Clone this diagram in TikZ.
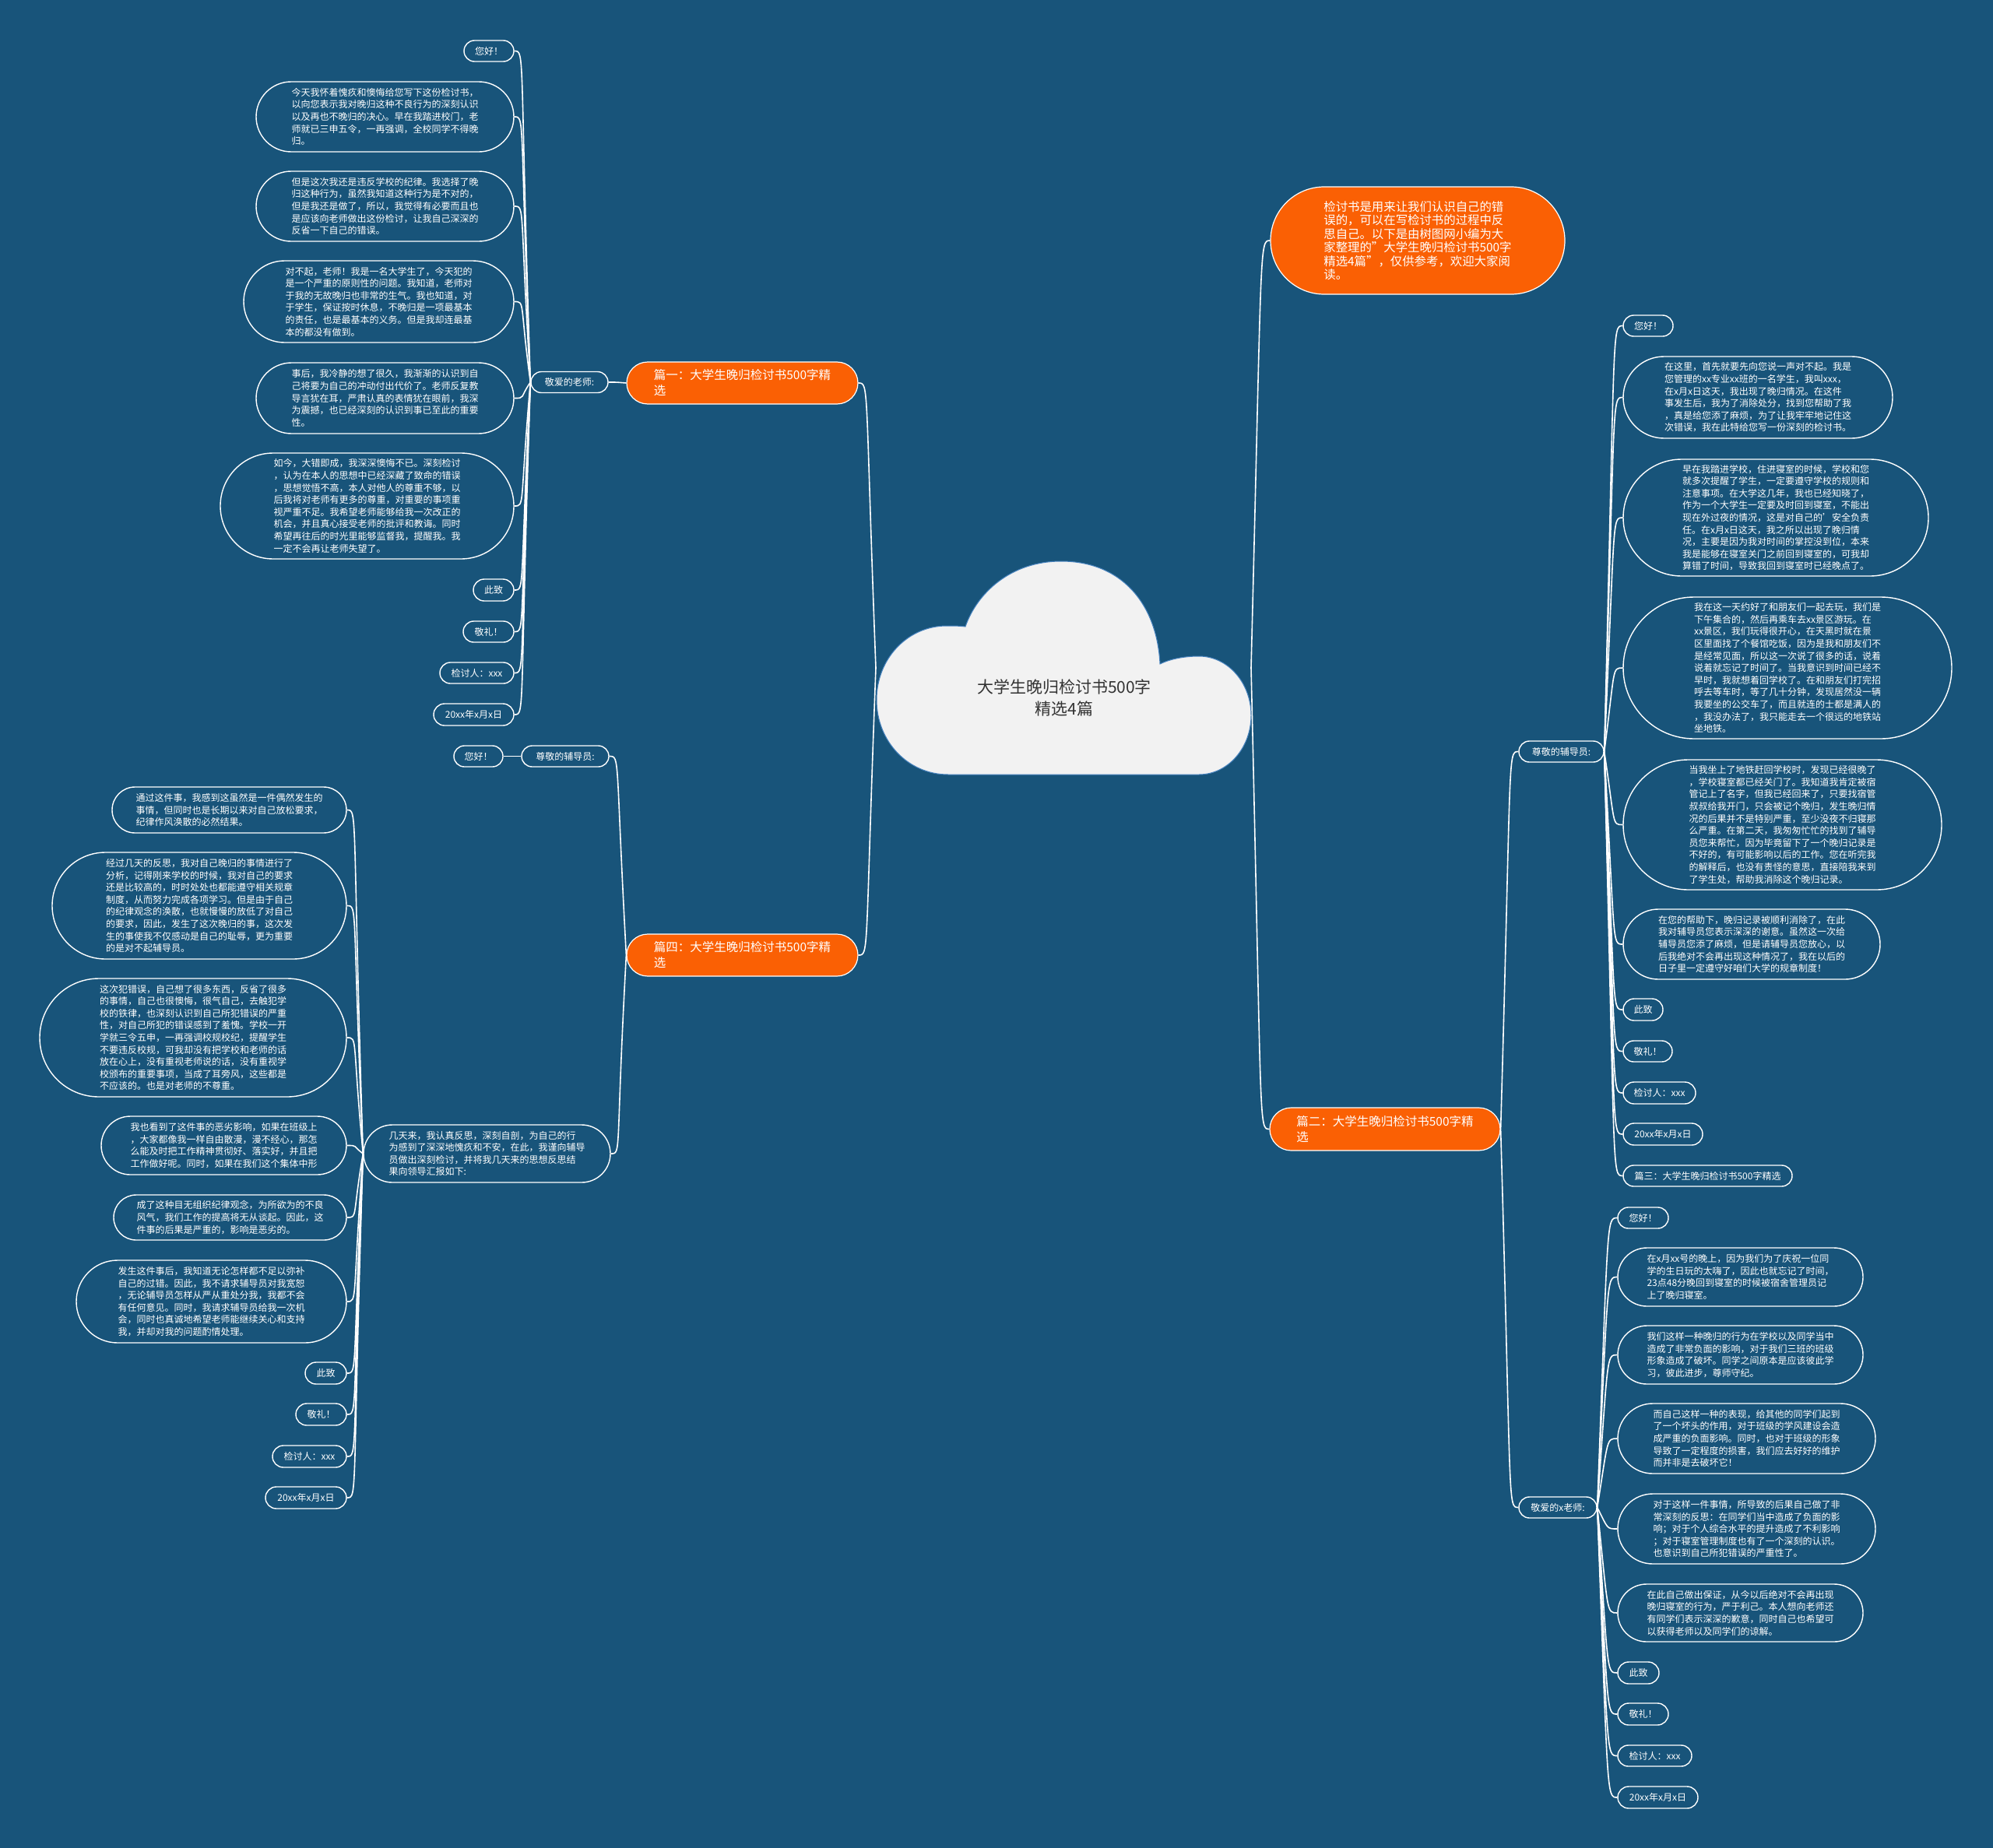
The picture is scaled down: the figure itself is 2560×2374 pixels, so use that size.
\documentclass[tikz,border=0pt]{standalone}
\usepackage{fontspec}
\setmainfont{Noto Sans CJK SC}
\usetikzlibrary{shapes.misc,calc}
\definecolor{bgC}{RGB}{24,84,122}
\definecolor{orangeC}{RGB}{250,96,4}
\definecolor{cloudC}{RGB}{242,242,242}
\definecolor{cloudEdge}{RGB}{70,130,190}
\definecolor{rootText}{RGB}{51,51,51}
\tikzset{
  conn/.style={draw=white, line width=1.6pt},
  bub/.style={rounded rectangle, draw=white, line width=1.4pt, fill=bgC, text=white,
    inner sep=0pt, align=left, font=\fontsize{12}{15.6}\selectfont},
  branch/.style={rounded rectangle, draw=white, line width=1.2pt, fill=orangeC, text=white,
    inner sep=0pt, align=left, font=\fontsize{15.5}{20}\selectfont},
  intro/.style={rounded rectangle, draw=white, line width=1.2pt, fill=orangeC, text=white,
    inner sep=0pt, align=left, font=\fontsize{15.4}{17.5}\selectfont},
  rootlabel/.style={text=rootText, align=center, inner sep=0pt, font=\fontsize{21}{28}\selectfont},
}
\newcommand\connL[2]{\draw[conn] let \p1=(#1), \p2=(#2) in (\p1) .. controls (\x1-14pt,\y2) and (\x2+14pt,\y2) .. (\p2);}
\newcommand\connR[2]{\draw[conn] let \p1=(#1), \p2=(#2) in (\p1) .. controls (\x1+14pt,\y2) and (\x2-14pt,\y2) .. (\p2);}
\begin{document}
\begin{tikzpicture}[x=1pt,y=-1pt]
\useasboundingbox (0,0) rectangle (2560,2374);
\fill[bgC] (0,0) rectangle (2560,2374);

% cloud
\filldraw[fill=cloudC, draw=cloudEdge, line width=1pt] (1218,995) -- (1540,995)
  .. controls (1577,995) and (1607,961) .. (1607,919)
  .. controls (1607,877) and (1577,843) .. (1540,843)
  .. controls (1520,843) and (1502,847) .. (1490,853)
  .. controls (1486,775) and (1440,721) .. (1363,721)
  .. controls (1298,721) and (1255,762) .. (1240,805)
  .. controls (1232,804) and (1225,804) .. (1216,804)
  .. controls (1166,804) and (1126,846) .. (1126,899)
  .. controls (1126,952) and (1166,995) .. (1218,995) -- cycle;
\node[rootlabel] (root) at (1367,896) {大学生晚归检讨书500字\\精选4篇};
\coordinate (cloudL) at (1125,858);
\coordinate (cloudR) at (1607,858);

% ===== branch 1 (left top)
\node[branch, minimum width=297pt, minimum height=54pt] (n1) at (953.5,492) {篇一：大学生晚归检讨书500字精\\选};
\node[bub, minimum width=99pt, minimum height=27pt] (t1) at (731.5,491) {敬爱的老师:};
\node[bub, minimum width=64pt, minimum height=27pt] (a1) at (628,65.5) {您好！};
\node[bub, minimum width=331pt, minimum height=90pt] (a2) at (494.5,150) {今天我怀着愧疚和懊悔给您写下这份检讨书，\\以向您表示我对晚归这种不良行为的深刻认识\\以及再也不晚归的决心。早在我踏进校门，老\\师就已三申五令，一再强调，全校同学不得晚\\归。};
\node[bub, minimum width=331pt, minimum height=90pt] (a3) at (494.5,265) {但是这次我还是违反学校的纪律。我选择了晚\\归这种行为，虽然我知道这种行为是不对的，\\但是我还是做了，所以，我觉得有必要而且也\\是应该向老师做出这份检讨，让我自己深深的\\反省一下自己的错误。};
\node[bub, minimum width=347pt, minimum height=105pt] (a4) at (486.5,387.5) {对不起，老师！我是一名大学生了，今天犯的\\是一个严重的原则性的问题。我知道，老师对\\于我的无故晚归也非常的生气。我也知道，对\\于学生，保证按时休息，不晚归是一项最基本\\的责任，也是最基本的义务。但是我却连最基\\本的都没有做到。};
\node[bub, minimum width=331pt, minimum height=91pt] (a5) at (494.5,511.5) {事后，我冷静的想了很久，我渐渐的认识到自\\己将要为自己的冲动付出代价了。老师反复教\\导言犹在耳，严肃认真的表情犹在眼前，我深\\为震撼，也已经深刻的认识到事已至此的重要\\性。};
\node[bub, minimum width=377pt, minimum height=136pt] (a6) at (471.5,650) {如今，大错即成，我深深懊悔不已。深刻检讨\\，认为在本人的思想中已经深藏了致命的错误\\，思想觉悟不高，本人对他人的尊重不够，以\\后我将对老师有更多的尊重，对重要的事项重\\视严重不足。我希望老师能够给我一次改正的\\机会，并且真心接受老师的批评和教诲。同时\\希望再往后的时光里能够监督我，提醒我。我\\一定不会再让老师失望了。};
\node[bub, minimum width=52pt, minimum height=28pt] (a7) at (634,758) {此致};
\node[bub, minimum width=65pt, minimum height=27pt] (a8) at (627.5,811.5) {敬礼！};
\node[bub, minimum width=95pt, minimum height=27pt] (a9) at (612.5,864.5) {检讨人：xxx};
\node[bub, minimum width=103pt, minimum height=28pt] (a10) at (608.5,918) {20xx年x月x日};

% ===== branch 4 (left bottom)
\node[branch, minimum width=297pt, minimum height=54pt] (n4) at (953.5,1227) {篇四：大学生晚归检讨书500字精\\选};
\node[bub, minimum width=112pt, minimum height=27pt] (t4) at (726,971.5) {尊敬的辅导员:};
\node[bub, minimum width=63pt, minimum height=27pt] (b0) at (614.5,971.5) {您好！};
\node[bub, minimum width=317pt, minimum height=74pt] (t4b) at (625.5,1482) {几天来，我认真反思，深刻自剖，为自己的行\\为感到了深深地愧疚和不安，在此，我谨向辅导\\员做出深刻检讨，并将我几天来的思想反思结\\果向领导汇报如下:};
\node[bub, minimum width=301pt, minimum height=59pt] (c1) at (294.5,1040.5) {通过这件事，我感到这虽然是一件偶然发生的\\事情，但同时也是长期以来对自己放松要求，\\纪律作风涣散的必然结果。};
\node[bub, minimum width=378pt, minimum height=137pt] (c2) at (256,1163.5) {经过几天的反思，我对自己晚归的事情进行了\\分析，记得刚来学校的时候，我对自己的要求\\还是比较高的，时时处处也都能遵守相关规章\\制度，从而努力完成各项学习。但是由于自己\\的纪律观念的涣散，也就慢慢的放低了对自己\\的要求，因此，发生了这次晚归的事，这次发\\生的事使我不仅感动是自己的耻辱，更为重要\\的是对不起辅导员。};
\node[bub, minimum width=394pt, minimum height=152pt] (c3) at (248,1333) {这次犯错误，自己想了很多东西，反省了很多\\的事情，自己也很懊悔，很气自己，去触犯学\\校的铁律，也深刻认识到自己所犯错误的严重\\性，对自己所犯的错误感到了羞愧。学校一开\\学就三令五申，一再强调校规校纪，提醒学生\\不要违反校规，可我却没有把学校和老师的话\\放在心上，没有重视老师说的话，没有重视学\\校颁布的重要事项，当成了耳旁风，这些都是\\不应该的。也是对老师的不尊重。};
\node[bub, minimum width=315pt, minimum height=75pt] (c4) at (287.5,1471.5) {我也看到了这件事的恶劣影响，如果在班级上\\，大家都像我一样自由散漫，漫不经心，那怎\\么能及时把工作精神贯彻好、落实好，并且把\\工作做好呢。同时，如果在我们这个集体中形};
\node[bub, minimum width=299pt, minimum height=58pt] (c5) at (295.5,1564) {成了这种目无组织纪律观念，为所欲为的不良\\风气，我们工作的提高将无从谈起。因此，这\\件事的后果是严重的，影响是恶劣的。};
\node[bub, minimum width=347pt, minimum height=106pt] (c6) at (271.5,1672) {发生这件事后，我知道无论怎样都不足以弥补\\自己的过错。因此，我不请求辅导员对我宽恕\\，无论辅导员怎样从严从重处分我，我都不会\\有任何意见。同时，我请求辅导员给我一次机\\会，同时也真诚地希望老师能继续关心和支持\\我，并却对我的问题酌情处理。};
\node[bub, minimum width=53pt, minimum height=28pt] (c7) at (418.5,1764) {此致};
\node[bub, minimum width=65pt, minimum height=28pt] (c8) at (412.5,1817) {敬礼！};
\node[bub, minimum width=95pt, minimum height=28pt] (c9) at (397.5,1871) {检讨人：xxx};
\node[bub, minimum width=104pt, minimum height=28pt] (c10) at (393,1924) {20xx年x月x日};

% ===== intro (right top)
\node[intro, minimum width=378pt, minimum height=138pt] (o1) at (1821,309) {检讨书是用来让我们认识自己的错\\误的，可以在写检讨书的过程中反\\思自己。以下是由树图网小编为大\\家整理的"大学生晚归检讨书500字\\精选4篇"，仅供参考，欢迎大家阅\\读。};

% ===== branch 2 (right)
\node[branch, minimum width=296pt, minimum height=55pt] (n2) at (1779,1450.5) {篇二：大学生晚归检讨书500字精\\选};
\node[bub, minimum width=109pt, minimum height=27pt] (t2) at (2005.5,965.5) {尊敬的辅导员:};
\node[bub, minimum width=64pt, minimum height=27pt] (d1) at (2117,418.5) {您好！};
\node[bub, minimum width=346pt, minimum height=105pt] (d2) at (2258,510.5) {在这里，首先就要先向您说一声对不起。我是\\您管理的xx专业xx班的一名学生，我叫xxx，\\在x月x日这天，我出现了晚归情况。在这件\\事发生后，我为了消除处分，找到您帮助了我\\，真是给您添了麻烦，为了让我牢牢地记住这\\次错误，我在此特给您写一份深刻的检讨书。};
\node[bub, minimum width=392pt, minimum height=150pt] (d3) at (2281,665) {早在我踏进学校，住进寝室的时候，学校和您\\就多次提醒了学生，一定要遵守学校的规则和\\注意事项。在大学这几年，我也已经知晓了，\\作为一个大学生一定要及时回到寝室，不能出\\现在外过夜的情况，这是对自己的'安全负责\\任。在x月x日这天，我之所以出现了晚归情\\况，主要是因为我对时间的掌控没到位，本来\\我是能够在寝室关门之前回到寝室的，可我却\\算错了时间，导致我回到寝室时已经晚点了。};
\node[bub, minimum width=422pt, minimum height=182pt] (d4) at (2296,858) {我在这一天约好了和朋友们一起去玩，我们是\\下午集合的，然后再乘车去xx景区游玩。在\\xx景区，我们玩得很开心，在天黑时就在景\\区里面找了个餐馆吃饭，因为是我和朋友们不\\是经常见面，所以这一次说了很多的话，说着\\说着就忘记了时间了。当我意识到时间已经不\\早时，我就想着回学校了。在和朋友们打完招\\呼去等车时，等了几十分钟，发现居然没一辆\\我要坐的公交车了，而且就连的士都是满人的\\，我没办法了，我只能走去一个很远的地铁站\\坐地铁。};
\node[bub, minimum width=409pt, minimum height=167pt] (d5) at (2289.5,1059.5) {当我坐上了地铁赶回学校时，发现已经很晚了\\，学校寝室都已经关门了。我知道我肯定被宿\\管记上了名字，但我已经回来了，只要找宿管\\叔叔给我开门，只会被记个晚归，发生晚归情\\况的后果并不是特别严重，至少没夜不归寝那\\么严重。在第二天，我匆匆忙忙的找到了辅导\\员您来帮忙，因为毕竟留下了一个晚归记录是\\不好的，有可能影响以后的工作。您在听完我\\的解释后，也没有责怪的意思，直接陪我来到\\了学生处，帮助我消除这个晚归记录。};
\node[bub, minimum width=330pt, minimum height=90pt] (d6) at (2250,1213) {在您的帮助下，晚归记录被顺利消除了，在此\\我对辅导员您表示深深的谢意。虽然这一次给\\辅导员您添了麻烦，但是请辅导员您放心，以\\后我绝对不会再出现这种情况了，我在以后的\\日子里一定遵守好咱们大学的规章制度！};
\node[bub, minimum width=51pt, minimum height=28pt] (d7) at (2110.5,1297) {此致};
\node[bub, minimum width=63pt, minimum height=27pt] (d8) at (2116.5,1350.5) {敬礼！};
\node[bub, minimum width=93pt, minimum height=28pt] (d9) at (2131.5,1404) {检讨人：xxx};
\node[bub, minimum width=102pt, minimum height=28pt] (d10) at (2136,1457) {20xx年x月x日};
\node[bub, minimum width=217pt, minimum height=27pt] (d11) at (2193.5,1510.5) {篇三：大学生晚归检讨书500字精选};

\node[bub, minimum width=100pt, minimum height=27pt] (t3) at (2001,1936.5) {敬爱的x老师:};
\node[bub, minimum width=65pt, minimum height=27pt] (e1) at (2110.5,1564.5) {您好！};
\node[bub, minimum width=315pt, minimum height=75pt] (e2) at (2235.5,1640.5) {在x月xx号的晚上，因为我们为了庆祝一位同\\学的生日玩的太嗨了，因此也就忘记了时间，\\23点48分晚回到寝室的时候被宿舍管理员记\\上了晚归寝室。};
\node[bub, minimum width=315pt, minimum height=75pt] (e3) at (2235.5,1740.5) {我们这样一种晚归的行为在学校以及同学当中\\造成了非常负面的影响，对于我们三班的班级\\形象造成了破坏。同学之间原本是应该彼此学\\习，彼此进步，尊师守纪。};
\node[bub, minimum width=331pt, minimum height=90pt] (e4) at (2243.5,1848) {而自己这样一种的表现，给其他的同学们起到\\了一个坏头的作用，对于班级的学风建设会造\\成严重的负面影响。同时，也对于班级的形象\\导致了一定程度的损害，我们应去好好的维护\\而并非是去破坏它！};
\node[bub, minimum width=331pt, minimum height=90pt] (e5) at (2243.5,1964) {对于这样一件事情，所导致的后果自己做了非\\常深刻的反思：在同学们当中造成了负面的影\\响；对于个人综合水平的提升造成了不利影响\\；对于寝室管理制度也有了一个深刻的认识。\\也意识到自己所犯错误的严重性了。};
\node[bub, minimum width=315pt, minimum height=74pt] (e6) at (2235.5,2072) {在此自己做出保证，从今以后绝对不会再出现\\晚归寝室的行为，严于利己。本人想向老师还\\有同学们表示深深的歉意，同时自己也希望可\\以获得老师以及同学们的谅解。};
\node[bub, minimum width=53pt, minimum height=28pt] (e7) at (2104.5,2149) {此致};
\node[bub, minimum width=65pt, minimum height=28pt] (e8) at (2110.5,2202) {敬礼！};
\node[bub, minimum width=95pt, minimum height=27pt] (e9) at (2125.5,2255.5) {检讨人：xxx};
\node[bub, minimum width=103pt, minimum height=28pt] (e10) at (2129.5,2309) {20xx年x月x日};

% ===== connectors
\connL{cloudL}{n1.east}
\connL{cloudL}{n4.east}
\connR{cloudR}{o1.west}
\connR{cloudR}{n2.west}

\connL{n1.west}{t1.east}
\foreach \k in {a1,a2,a3,a4,a5,a6,a7,a8,a9,a10} {\connL{t1.west}{\k.east}}

\connL{n4.west}{t4.east}
\connL{n4.west}{t4b.east}
\connL{t4.west}{b0.east}
\foreach \k in {c1,c2,c3,c4,c5,c6,c7,c8,c9,c10} {\connL{t4b.west}{\k.east}}

\connR{n2.east}{t2.west}
\connR{n2.east}{t3.west}
\foreach \k in {d1,d2,d3,d4,d5,d6,d7,d8,d9,d10,d11} {\connR{t2.east}{\k.west}}
\foreach \k in {e1,e2,e3,e4,e5,e6,e7,e8,e9,e10} {\connR{t3.east}{\k.west}}
\end{tikzpicture}
\end{document}
